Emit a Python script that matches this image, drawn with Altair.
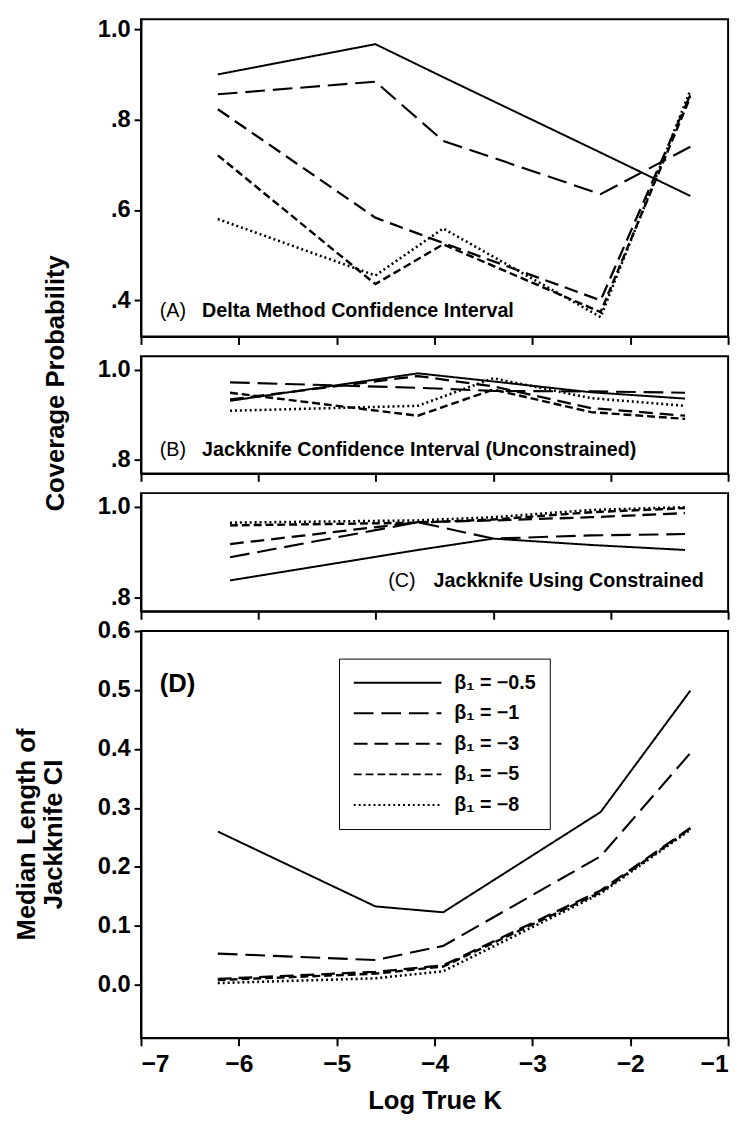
import altair as alt
import pandas as pd

series = ["β₁ = −0.5", "β₁ = −1", "β₁ = −3", "β₁ = −5", "β₁ = −8"]

# x positions (log true K)
x_ad = [-6.215, -4.605, -3.912, -2.303, -1.386]
x_bc = [-6.09, -4.17, -3.40, -2.40, -1.44]

# (A) Delta method coverage
a_05 = [0.900, 0.967, 0.894, 0.727, 0.631]
a_1 = [0.856, 0.884, 0.753, 0.635, 0.740]
a_3 = [0.823, 0.583, 0.527, 0.400, 0.855]
a_5 = [0.721, 0.436, 0.524, 0.374, 0.850]
a_8 = [0.580, 0.455, 0.559, 0.363, 0.865]

# (B) Jackknife unconstrained coverage
b_05 = [0.931, 0.992, 0.974, 0.950, 0.936]
b_1 = [0.972, 0.960, 0.953, 0.952, 0.949]
b_3 = [0.934, 0.986, 0.963, 0.915, 0.898]
b_5 = [0.949, 0.898, 0.956, 0.906, 0.891]
b_8 = [0.909, 0.920, 0.981, 0.937, 0.920]

# (C) Jackknife using constrained coverage
c_05 = [0.838, 0.905, 0.930, 0.916, 0.905]
c_1 = [0.889, 0.966, 0.930, 0.937, 0.940]
c_3 = [0.918, 0.966, 0.970, 0.977, 0.986]
c_5 = [0.959, 0.965, 0.972, 0.988, 0.997]
c_8 = [0.965, 0.970, 0.977, 0.993, 0.999]

# (D) Median length of jackknife CI
d_05 = [0.260, 0.133, 0.123, 0.293, 0.499]
d_1 = [0.053, 0.042, 0.066, 0.218, 0.393]
d_3 = [0.010, 0.022, 0.033, 0.160, 0.266]
d_5 = [0.008, 0.019, 0.031, 0.157, 0.265]
d_8 = [0.003, 0.011, 0.023, 0.155, 0.263]

FONT = "Liberation Sans, Arial, Helvetica, sans-serif"
dash_range = [[1, 0], [20, 8], [14, 7], [8, 4], [2, 3]]
width_range = [2, 2.6, 2, 2.2, 1.8]


def frame(xs, cols):
    rows = []
    for s, vals in zip(series, cols):
        for x, v in zip(xs, vals):
            rows.append({"x": x, "y": v, "s": s})
    return pd.DataFrame(rows)


def lines(df, yscale, yaxis, xaxis, legend=None):
    return alt.Chart(df).mark_line(color="black").encode(
        x=alt.X("x:Q", scale=alt.Scale(domain=[-7, -1], nice=False, zero=False), axis=xaxis),
        y=alt.Y("y:Q", scale=yscale, axis=yaxis),
        strokeDash=alt.StrokeDash("s:N", scale=alt.Scale(domain=series, range=dash_range), legend=legend),
        strokeWidth=alt.StrokeWidth("s:N", scale=alt.Scale(domain=series, range=width_range), legend=None),
        detail="s:N",
    )


def label(txt, x, y, size, weight="bold", align="left"):
    return alt.Chart(pd.DataFrame({"t": [txt]})).mark_text(
        align=align, baseline="middle", font=FONT, fontSize=size, fontWeight=weight, color="black"
    ).encode(text="t:N", x=alt.value(x), y=alt.value(y))


cov_labels = "datum.value == 1 ? '1.0' : '.' + format(round(datum.value * 10), 'd')"

x_noaxis_int = alt.Axis(values=[-7, -6, -5, -4, -3, -2, -1], labels=False, title=None, grid=False, tickSize=8)
x_noaxis_bc = alt.Axis(values=[-7, -5.8, -4.6, -3.4, -2.2, -1], labels=False, title=None, grid=False, tickSize=8)

W = 596

pa = alt.layer(
    lines(frame(x_ad, [a_05, a_1, a_3, a_5, a_8]),
          alt.Scale(domain=[0.32, 1.022], nice=False, zero=False),
          alt.Axis(values=[0.4, 0.6, 0.8, 1.0], labelExpr=cov_labels, title=None, grid=False),
          x_noaxis_int),
    label("(A)", 19, 296, 20, "normal"),
    label("Delta Method Confidence Interval", 62, 296, 20),
).properties(width=W, height=322)

pb = alt.layer(
    lines(frame(x_bc, [b_05, b_1, b_3, b_5, b_8]),
          alt.Scale(domain=[0.77, 1.03], nice=False, zero=False),
          alt.Axis(values=[0.8, 1.0], labelExpr=cov_labels, grid=False,
                   title="Coverage Probability", titleFontSize=26, titleAngle=270,
                   titleX=-87, titleY=27, titleBaseline="middle", titleAlign="center"),
          x_noaxis_bc),
    label("(B)", 19, 95, 20, "normal"),
    label("Jackknife Confidence Interval (Unconstrained)", 62, 95, 20),
).properties(width=W, height=119)

pc = alt.layer(
    lines(frame(x_bc, [c_05, c_1, c_3, c_5, c_8]),
          alt.Scale(domain=[0.77, 1.03], nice=False, zero=False),
          alt.Axis(values=[0.8, 1.0], labelExpr=cov_labels, title=None, grid=False),
          x_noaxis_bc),
    label("(C)", 251, 89, 20, "normal"),
    label("Jackknife Using Constrained", 297, 89, 20),
).properties(width=W, height=120)

pd_ = alt.layer(
    lines(frame(x_ad, [d_05, d_1, d_3, d_5, d_8]),
          alt.Scale(domain=[-0.09, 0.6], nice=False, zero=False),
          alt.Axis(values=[0, 0.1, 0.2, 0.3, 0.4, 0.5, 0.6], format=".1f", grid=False,
                   title=["Median Length of", "Jackknife CI"], titleFontSize=26, titleAngle=270,
                   titleX=-116, titleY=206, titleBaseline="middle", titleAlign="center",
                   titleLineHeight=27),
          alt.Axis(values=[-7, -6, -5, -4, -3, -2, -1], grid=False, tickSize=8,
                   labelFontSize=25, labelPadding=6,
                   title="Log True K", titleFontSize=26, titlePadding=12),
          legend=alt.Legend(title=None, orient="none", legendX=201, legendY=28,
                            symbolType="stroke", symbolSize=7921, symbolStrokeWidth=2,
                            symbolStrokeColor="black", labelFontSize=20, labelFont=FONT,
                            labelFontWeight="bold", labelColor="black", rowPadding=10,
                            clipHeight=21, padding=14, strokeColor="black", fillColor="white",
                            labelOffset=12)),
    label("(D)", 19, 54, 26),
).properties(width=W, height=413)

chart = alt.vconcat(pa, pb, pc, pd_, spacing=20, bounds="flush").resolve_legend(
    strokeDash="independent"
).properties(
    padding={"left": 5, "top": 0, "right": 5, "bottom": 5}
).configure_view(
    stroke="black", strokeWidth=2
).configure_axis(
    domainColor="black", domainWidth=2, tickColor="black", tickWidth=2, tickSize=7,
    labelFont=FONT, labelFontWeight="bold", labelFontSize=24, labelColor="black", labelPadding=4,
    titleFont=FONT, titleFontWeight="bold", titleColor="black",
)

chart.save("out.html", embed_options={"renderer": "svg", "actions": False})
